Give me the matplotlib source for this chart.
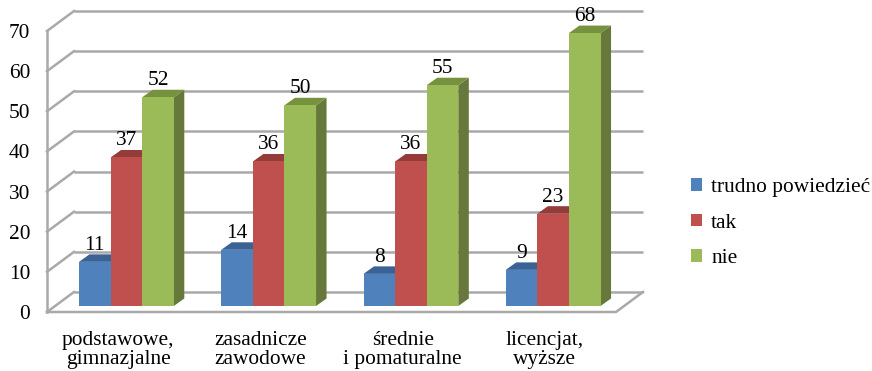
import matplotlib
matplotlib.use('Agg')
from matplotlib import pyplot as plt
from matplotlib.patches import Polygon, Patch

categories = ['podstawowe,\ngimnazjalne', 'zasadnicze\nzawodowe', 'średnie\ni pomaturalne', 'licencjat,\nwyższe']
series_names = ['trudno powiedzieć', 'tak', 'nie']
trudno = [11, 14, 8, 9]
tak = [37, 36, 36, 23]
nie = [52, 50, 55, 68]
y_ticks = [0, 10, 20, 30, 40, 50, 60, 70]

front_colors = ['#4f81bd', '#c0504d', '#9bbb59']
top_colors = ['#3a6295', '#943c3a', '#77923f']
side_colors = ['#2f4f78', '#7a2f2d', '#66783a']
grid_color = '#a9a9a9'
font = 'Liberation Serif'
fs = 15.4

W, H = 872, 371
fig = plt.figure(figsize=(W / 100, H / 100), dpi=100)
ax = fig.add_axes([47 / W, (H - 312) / H, (643 - 47) / W, (312 - 11) / H])

# px per data unit, axes are set up so categories are 1 wide
px_x = 142.25
px_y = 4.014
ax.set_xlim(0, (643 - 47) / px_x)
ax.set_ylim(0, (312 - 11) / px_y)
ax.patch.set_visible(False)
for s in ax.spines.values():
    s.set_visible(False)

# oblique depth vectors in data units
wall_dx, wall_dy = 27 / px_x, 20 / px_y
base_dx, base_dy = 8 / px_x, 6 / px_y
bar_dx, bar_dy = 10.5 / px_x, 7.5 / px_y
bar_w = 31.6 / px_x
first_bar = (79 - 47) / px_x - base_dx

# walls and floor
for v in y_ticks:
    ax.plot([wall_dx, 4 + wall_dx], [v + wall_dy, v + wall_dy], color=grid_color, lw=1.8, clip_on=False, zorder=1, solid_capstyle='butt')
    ax.plot([0, wall_dx], [v, v + wall_dy], color=grid_color, lw=1.8, clip_on=False, zorder=1)
ax.plot([0, 0], [0, 70], color=grid_color, lw=1.8, clip_on=False, zorder=2)
ax.plot([0, 4, 4 + wall_dx], [0, 0, wall_dy], color=grid_color, lw=1.8, clip_on=False, zorder=2)

series = [trudno, tak, nie]
order = 3
for i in range(len(categories)):
    for j, values in enumerate(series):
        v = values[i]
        x0 = i + first_bar + j * bar_w + base_dx
        x1 = x0 + bar_w
        y0 = base_dy
        y1 = y0 + v
        side = Polygon([(x1, y0), (x1 + bar_dx, y0 + bar_dy), (x1 + bar_dx, y1 + bar_dy), (x1, y1)],
                       facecolor=side_colors[j], edgecolor='none', zorder=order, clip_on=False)
        top = Polygon([(x0, y1), (x0 + bar_dx, y1 + bar_dy), (x1 + bar_dx, y1 + bar_dy), (x1, y1)],
                      facecolor=top_colors[j], edgecolor='none', zorder=order, clip_on=False)
        front = Polygon([(x0, y0), (x1, y0), (x1, y1), (x0, y1)],
                        facecolor=front_colors[j], edgecolor='none', zorder=order + 0.5, clip_on=False)
        ax.add_patch(side)
        ax.add_patch(top)
        ax.add_patch(front)
        order += 1
        ax.annotate(str(v), (x0 + bar_w / 2, y1 + bar_dy), xytext=(0, 6.6), textcoords='offset points',
                    ha='center', va='center', family=font, fontsize=fs, color='black', zorder=50, annotation_clip=False)

ax.set_yticks(y_ticks)
ax.set_yticklabels([str(v) for v in y_ticks], family=font, fontsize=fs)
ax.set_xticks([i + 0.5 for i in range(len(categories))])
ax.set_xticklabels(categories, family=font, fontsize=fs, linespacing=1.03)
ax.tick_params(axis='both', length=0)
ax.tick_params(axis='y', pad=12)
ax.tick_params(axis='x', pad=13.5)

handles = [Patch(facecolor=c, edgecolor='none') for c in front_colors]
fig.legend(handles, series_names, loc='center left', bbox_to_anchor=(691 / W, (H - 223) / H),
           prop={'family': font, 'size': fs}, frameon=False, handlelength=0.52, handleheight=0.52,
           handletextpad=0.42, labelspacing=0.77, borderpad=0, borderaxespad=0)

plt.savefig('out.png', dpi=100)
